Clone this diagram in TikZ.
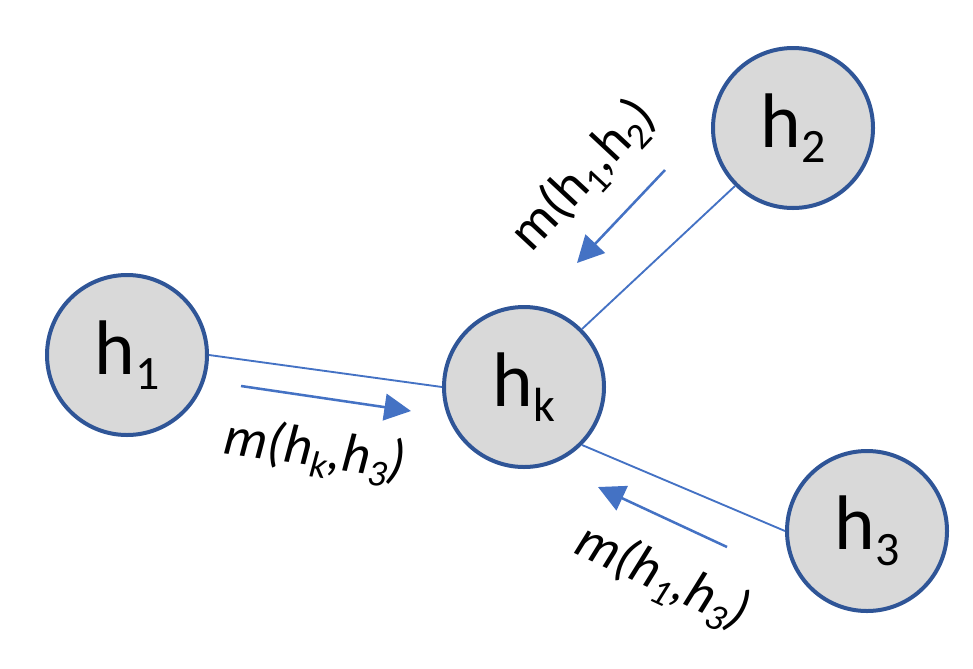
\documentclass[tikz,border=0pt]{standalone}
\usepackage{fontspec}
\setmainfont{Carlito}
\usepackage{graphicx}
\usetikzlibrary{arrows.meta}
\definecolor{nodeborder}{HTML}{2F5597}
\definecolor{nodefill}{HTML}{D9D9D9}
\definecolor{linkblue}{HTML}{4472C4}
\newcommand\lsub[1]{\raisebox{-0.2em}{\scalebox{0.62}{#1}}}
\newcommand\tsub[1]{\raisebox{-0.2em}{\scalebox{0.68}{#1}}}
\begin{document}
\begin{tikzpicture}[x=0.75pt,y=-0.75pt,
 state/.style={circle,draw=nodeborder,fill=nodefill,line width=3pt,minimum size=120pt,inner sep=0pt,font=\fontsize{58}{60}\selectfont},
 link/.style={draw=linkblue,line width=1.4pt},
 msg/.style={draw=linkblue,fill=linkblue,line width=1.9pt,-{Triangle[length=20pt,width=20pt]}},
 lbl/.style={font=\fontsize{41}{43}\selectfont,inner sep=0pt}]
\useasboundingbox (0,0) rectangle (973,668);
\node[state] (h1) at (127,355) {h\lsub{1}};
\node[state] (h2) at (793,128) {h\lsub{2}};
\node[state] (hk) at (524,387) {h\lsub{k}};
\node[state] (h3) at (867,531) {h\lsub{3}};
\draw[link] (h1.east) -- (hk.west);
\draw[link] (h2.225) -- (hk.45);
\draw[link] (hk.-45) -- (h3.west);
\coordinate (a1s) at (241,386);
\coordinate (a1e) at (411,411);
\coordinate (a2s) at (665,170);
\coordinate (a2e) at (577,263);
\coordinate (a3s) at (727,547);
\coordinate (a3e) at (598,487);
\draw[msg] (a1s) -- (a1e);
\draw[msg] (a2s) -- (a2e);
\draw[msg] (a3s) -- (a3e);
\node[lbl,rotate=-8] (l1) at (315,452) {\itshape m(h\tsub{k},h\tsub{3})};
\node[lbl,rotate=47] (l2) at (584,176) {m(h\tsub{1},h\tsub{2})};
\node[lbl,rotate=-25] (l3) at (662,578) {\itshape m(h\tsub{1},h\tsub{3})};
\end{tikzpicture}
\end{document}
